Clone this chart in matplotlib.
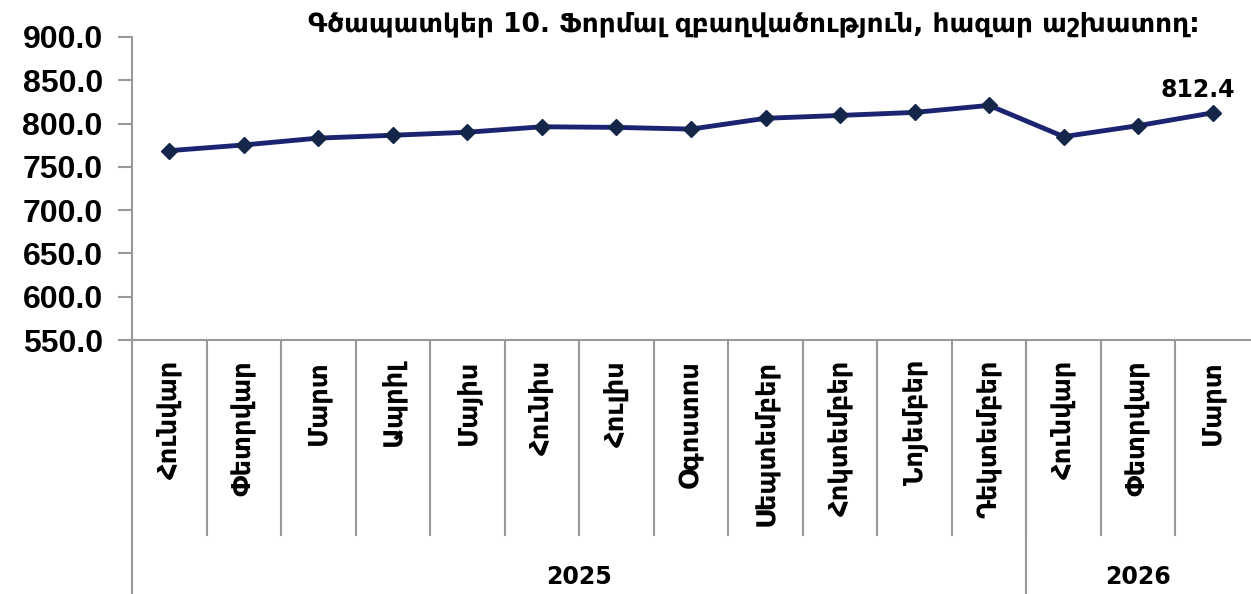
import matplotlib.pyplot as plt
import matplotlib.transforms as mtransforms

months = ['Հունվար', 'Փետրվար', 'Մարտ', 'Ապրիլ', 'Մայիս', 'Հունիս', 'Հուլիս', 'Օգոստոս',
          'Սեպտեմբեր', 'Հոկտեմբեր', 'Նոյեմբեր', 'Դեկտեմբեր', 'Հունվար', 'Փետրվար', 'Մարտ']
values = [768.7, 775.3, 783.2, 786.5, 790.0, 796.3, 795.6, 793.6,
          806.1, 809.4, 812.9, 821.0, 784.9, 797.6, 812.4]
years = ['2025', '2026']
year_counts = [12, 3]
yticks = [550, 600, 650, 700, 750, 800, 850, 900]
title = 'Գծապատկեր 10. Ֆորմալ զբաղվածություն, հազար աշխատող:'

W, H = 1251, 594
fig = plt.figure(figsize=(W / 100, H / 100), dpi=100)
ax = fig.add_axes([132 / W, 1 - 340 / H, (1250 - 132) / W, (340 - 37) / H])

xs = [i + 0.5 for i in range(len(values))]
ax.plot(xs, values, color='#1c2472', lw=3.5, marker='D', ms=8,
        mfc='#14264a', mec='#14264a', zorder=3)
ax.text(xs[-1] - 0.2, values[-1] + 12, f'{values[-1]:.1f}', ha='center', va='bottom',
        fontsize=17, fontweight='bold', family='DejaVu Sans')

ax.set_xlim(0, len(values))
ax.set_ylim(550, 900)
ax.set_yticks(yticks)
ax.set_yticklabels([f'{v:.1f}' for v in yticks], fontsize=23, fontweight='bold',
                   family='Liberation Sans')
ax.set_xticks([])
ax.tick_params(axis='y', length=10, width=1.5, color='#999999', pad=11)
for s in ['top', 'right']:
    ax.spines[s].set_visible(False)
for s in ['left', 'bottom']:
    ax.spines[s].set_color('#999999')
    ax.spines[s].set_linewidth(1.5)

trans = mtransforms.blended_transform_factory(ax.transData, ax.transAxes)
ax_h = 340 - 37
sep_bottom = -(535 - 340) / ax_h
fig_bottom = -(594 - 340) / ax_h

for i in range(1, len(values)):
    ax.plot([i, i], [0, sep_bottom], transform=trans, color='#999999', lw=1.5, clip_on=False)

start = 0
for yr, n in zip(years, year_counts):
    ax.plot([start, start], [0, fig_bottom], transform=trans, color='#999999', lw=1.5, clip_on=False)
    ax.text(start + n / 2, -(577 - 340) / ax_h, yr, transform=trans, ha='center', va='center',
            fontsize=17, fontweight='bold', family='DejaVu Sans')
    start += n

for x, m in zip(xs, months):
    ax.text(x, -(360 - 340) / ax_h, m, transform=trans, rotation=90, ha='center', va='top',
            fontsize=18.5, fontweight='bold', family='DejaVu Sans')

fig.text(1200 / W, 1 - 24 / H, title, ha='right', va='center', fontsize=19,
         fontweight='bold', family='DejaVu Sans')

fig.savefig('out.png', dpi=100)
